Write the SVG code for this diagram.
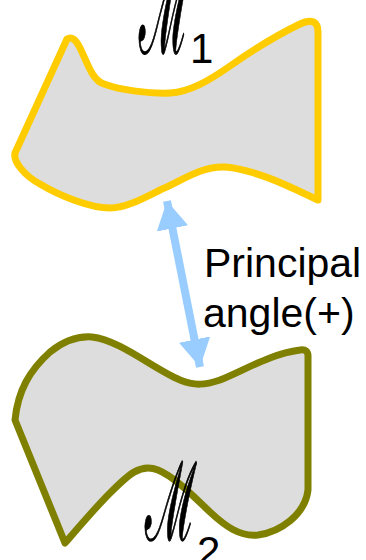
<svg xmlns="http://www.w3.org/2000/svg" width="366" height="560" viewBox="0 0 366 560">
<style>
.shape{fill:#DDDDDD;stroke-width:7;stroke-linejoin:round}
.lbl{font-family:"Liberation Sans",Arial,sans-serif;font-size:41px;fill:#000}
.sub{font-family:"Liberation Sans",Arial,sans-serif;font-size:42px;fill:#000}
.m{font-family:"DejaVu Serif",serif;font-size:78px;fill:#000;stroke:#000;stroke-width:0.9}
</style>
<defs>
<marker id="ah" markerWidth="4" markerHeight="4" refX="3.5" refY="2" orient="auto-start-reverse" markerUnits="strokeWidth">
<path d="M0,0 L3.5,2 L0,4 Z" fill="#99CCFF"/>
</marker>
</defs>
<g id="M1">
<path class="shape" stroke="#FFCC00" d="M67,39 C72,36 76,40 80,48 C88,64 92,80 104,84 C120,90 150,94 170,93 C190,92 210,80 230,66 C250,52 275,36 300,24 C312,18 318,22 318,32 L318,200 C300,192 260,170 225,167 C200,166 180,182 160,190 C140,200 125,208 110,208 C90,208 60,196 40,184 C25,176 13,162 15,153 Z"/>
<text class="m" transform="translate(139,53) scale(1,1.6)" x="0" y="0" textLength="51" lengthAdjust="spacingAndGlyphs">ℳ</text>
<text class="sub" x="190" y="63">1</text>
</g>
<g id="M2">
<path class="shape" stroke="#808000" d="M15,420 C18,390 30,370 50,352 C65,340 78,336 92,337 C120,340 155,370 180,380 C195,386 205,385 220,380 C245,370 270,354 300,350 C306,349 308,352 308,356 L308,490 C305,515 280,532 258,535 C240,537 225,526 210,512 C195,498 175,477 158,470 C140,463 128,475 110,493 C95,508 78,528 65,543 Z"/>
<text class="m" transform="translate(145,540) scale(1,1.4)" x="0" y="0" textLength="52" lengthAdjust="spacingAndGlyphs">ℳ</text>
<text class="sub" x="197" y="566">2</text>
</g>
<g id="connectors">
<line x1="167" y1="201" x2="200" y2="367" stroke="#99CCFF" stroke-width="8" marker-start="url(#ah)" marker-end="url(#ah)"/>
</g>
<g id="label">
<text class="lbl" x="204" y="277">Principal</text>
<text class="lbl" x="203" y="327">angle(+)</text>
</g>
</svg>
